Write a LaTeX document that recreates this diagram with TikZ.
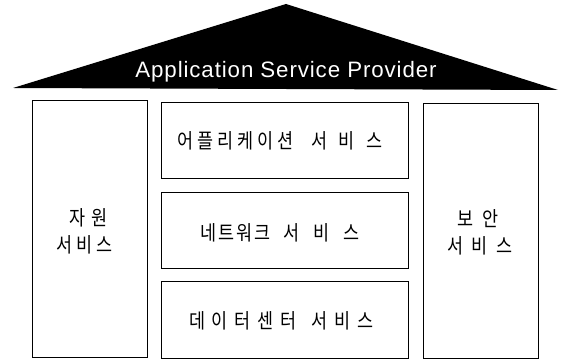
\documentclass[tikz,border=0pt]{standalone}
\usepackage{fontspec}
\setmainfont{Liberation Sans}
\newfontfamily\kr[FakeStretch=0.85]{Noto Sans CJK KR}
\newfontfamily\asp[LetterSpace=4]{Liberation Sans}
\newcommand\spr[2]{\makebox[#1][s]{#2}}
\begin{document}
\begin{tikzpicture}[x=1pt,y=-1pt,
  box/.style={draw=black, line width=0.8pt, inner sep=0pt},
  krtext/.style={font={\kr\fontsize{20.5}{24}\selectfont}, text=black, inner sep=0pt}]
\useasboundingbox (0,0) rectangle (562,363);
% roof
\coordinate (rl) at (13,88);
\coordinate (ra) at (286,4);
\coordinate (rr) at (558,90);
\fill[black] (rl) -- (ra) -- (rr) -- cycle;
\node[anchor=base, text=white, inner sep=0pt, font={\asp\fontsize{22.3}{26}\selectfont}] (asp) at (286,78) {Application Service Provider};
% side boxes
\node[box, minimum width=115pt, minimum height=257pt] (res) at (89.5,228.5) {};
\node[box, minimum width=115pt, minimum height=255pt] (sec) at (480.5,230.5) {};
% middle boxes
\node[box, minimum width=247pt, minimum height=76pt] (app) at (284.5,140) {};
\node[box, minimum width=247pt, minimum height=76pt] (net) at (284.5,230) {};
\node[box, minimum width=247pt, minimum height=77pt] (dc) at (284.5,319.5) {};
% texts
\node[krtext] (tapp) at (280,140.5) {\spr{117pt}{어\hfill 플\hfill 리\hfill 케\hfill 이\hfill 션}\hspace{17pt}\spr{72pt}{서\hfill 비\hfill 스}};
\node[krtext] (tnet) at (280,232.5) {\spr{71pt}{네\hfill 트\hfill 워\hfill 크}\hspace{13pt}\spr{76pt}{서\hfill 비\hfill 스}};
\node[krtext] (tdc) at (281.5,321) {\spr{108pt}{데\hfill 이\hfill 터\hfill 센\hfill 터}\hspace{15pt}\spr{62pt}{서\hfill 비\hfill 스}};
\node[krtext] (tres1) at (88.5,217.5) {\spr{39pt}{자\hfill 원}};
\node[krtext] (tres2) at (84.5,245) {\spr{57pt}{서\hfill 비\hfill 스}};
\node[krtext] (tsec1) at (478,219) {\spr{42pt}{보\hfill 안}};
\node[krtext] (tsec2) at (480,246) {\spr{66pt}{서\hfill 비\hfill 스}};
\end{tikzpicture}
\end{document}
